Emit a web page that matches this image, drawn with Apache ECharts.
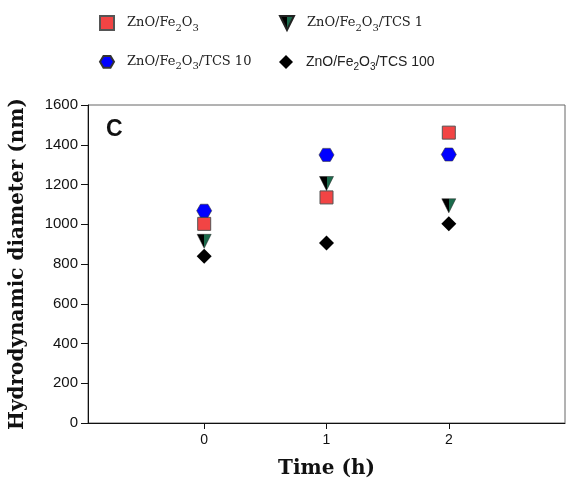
<!DOCTYPE html>
<html><head><meta charset="utf-8">
<script src="https://cdn.jsdelivr.net/npm/echarts@6/dist/echarts.min.js"></script>
<style>html,body{margin:0;padding:0;background:#fff}#c{width:566px;height:487px}</style>
</head><body><div id="c"></div>
<script>
const times = [0, 1, 2];
const xTickLabels = [0, 1, 2];
const znoFe = [1002, 1135, 1461];
const tcs1 = [914, 1205, 1093];
const tcs10 = [1068, 1349, 1351];
const tcs100 = [839, 906, 1002];
const seriesNames = ['ZnO/Fe2O3', 'ZnO/Fe2O3/TCS 1', 'ZnO/Fe2O3/TCS 10', 'ZnO/Fe2O3/TCS 100'];

const pts = arr => times.map((t, i) => [t, arr[i]]);
const chart = echarts.init(document.getElementById('c'));
const serif = 'DejaVu Serif';
const sans = 'Liberation Sans';
const hexPath = 'path://M0,5 L3,0 L9,0 L12,5 L9,10 L3,10 Z';
const triPath = 'path://M0,0 L12,0 L6,12 Z';
const triFill = new echarts.graphic.LinearGradient(0, 0, 1, 0, [
  {offset: 0, color: '#000'}, {offset: 0.5, color: '#000'},
  {offset: 0.5, color: '#1b6b4c'}, {offset: 1, color: '#1b6b4c'}]);

function richFmt(family, size) {
  return {
    g: {width: 8},
    a: {fontFamily: family, fontSize: size, lineHeight: 20, color: '#222'},
    s: {fontFamily: family, fontSize: 10, lineHeight: 12, verticalAlign: 'bottom', color: '#222'}
  };
}
function fmt(name) {
  const rest = name.replace('ZnO/Fe2O3', '');
  return '{g|}{a|ZnO/Fe}{s|2}{a|O}{s|3}' + (rest ? '{a|' + rest + '}' : '');
}
function leg(name, left, top, family, size) {
  return {
    data: [name], left: left, top: top, itemWidth: 14, itemHeight: 14,
    formatter: fmt, textStyle: {rich: richFmt(family, size)}, selectedMode: false
  };
}

chart.setOption({
  animation: false,
  grid: {left: 88, right: 1, top: 105, bottom: 64, show: true, borderColor: '#666', borderWidth: 1},
  legend: [
    leg(seriesNames[0], 94, 10, serif, 13),
    leg(seriesNames[1], 274, 10, serif, 13),
    leg(seriesNames[2], 94, 50, serif, 13),
    leg(seriesNames[3], 274, 50, sans, 14)
  ],
  title: {text: 'C', left: 101, top: 113, textStyle: {fontFamily: sans, fontWeight: 'bold', fontSize: 23, color: '#111'}},
  xAxis: {
    type: 'value', min: -0.95, max: 2.95,
    name: 'Time (h)', nameLocation: 'middle', nameGap: 36,
    nameTextStyle: {fontFamily: serif, fontWeight: 'bold', fontSize: 20, color: '#111'},
    axisLine: {onZero: false, lineStyle: {color: '#111', width: 1}},
    axisTick: {show: true, length: 6, lineStyle: {color: '#111'}, customValues: xTickLabels},
    axisLabel: {customValues: xTickLabels, fontFamily: sans, fontSize: 14, color: '#111', margin: 10},
    splitLine: {show: false}
  },
  yAxis: {
    type: 'value', min: 0, max: 1600, interval: 200,
    name: 'Hydrodynamic diameter (nm)', nameLocation: 'middle', nameGap: 60,
    nameTextStyle: {fontFamily: serif, fontWeight: 'bold', fontSize: 20, color: '#111'},
    axisLine: {show: true, onZero: false, lineStyle: {color: '#111', width: 1}},
    axisTick: {show: true, length: 7, lineStyle: {color: '#111'}},
    axisLabel: {fontFamily: sans, fontSize: 15, color: '#111', margin: 10, formatter: v => String(v)},
    splitLine: {show: false}
  },
  series: [
    {name: seriesNames[0], type: 'scatter', data: pts(znoFe), symbol: 'rect', symbolSize: 13,
     itemStyle: {color: '#f24444', borderColor: '#555', borderWidth: 1, opacity: 1}},
    {name: seriesNames[1], type: 'scatter', data: pts(tcs1), symbol: triPath, symbolSize: [14, 14],
     itemStyle: {color: triFill, borderColor: '#222', borderWidth: 0.5, opacity: 1}},
    {name: seriesNames[2], type: 'scatter', data: pts(tcs10), symbol: hexPath, symbolSize: [15, 13],
     itemStyle: {color: '#0000ff', borderColor: '#333', borderWidth: 0.6, opacity: 1}},
    {name: seriesNames[3], type: 'scatter', data: pts(tcs100), symbol: 'diamond', symbolSize: [15, 15],
     itemStyle: {color: '#000', opacity: 1}}
  ]
});
</script></body></html>
